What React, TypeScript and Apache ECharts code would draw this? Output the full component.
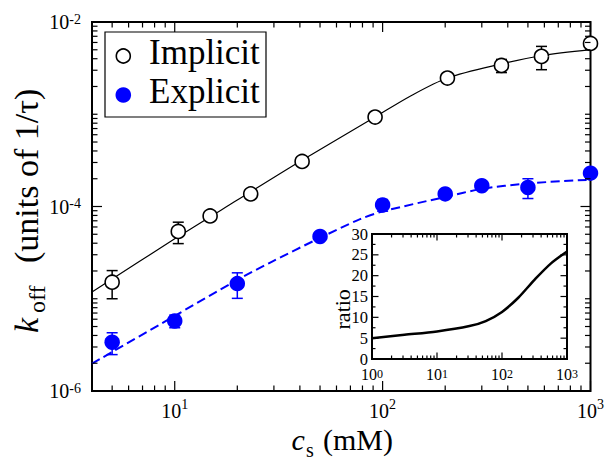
import React, { useEffect, useRef } from 'react';
import * as echarts from 'echarts';

// ---- data ----
const IMPLICIT_X = [5, 10.4, 14.8, 23.2, 41, 92, 205, 373, 581, 1000];
const IMPLICIT_Y = [1.51e-5, 5.36e-5, 7.9e-5, 1.37e-4, 3.08e-4, 9.33e-4, 2.47e-3, 3.38e-3, 4.24e-3, 5.85e-3];
const IMPLICIT_ERR = [0.51e-5, 1.4e-5, 0, 0, 0, 0, 0, 0.55e-3, 1.2e-3, 0];

const EXPLICIT_X = [5, 10, 20, 50, 100, 200, 300, 500, 1000];
const EXPLICIT_Y = [3.38e-6, 5.75e-6, 1.46e-5, 4.73e-5, 1.04e-4, 1.37e-4, 1.68e-4, 1.61e-4, 2.3e-4];
const EXPLICIT_ERR = [0.9e-6, 0.9e-6, 0.45e-5, 0, 0.15e-4, 0, 0, 0.39e-4, 0];

const IMPLICIT_FIT_X = [4, 10, 20, 40, 92, 135, 205, 373, 581, 1000];
const IMPLICIT_FIT_Y = [1.18e-5, 4.46e-5, 1.175e-4, 3.08e-4, 9.33e-4, 1.56e-3, 2.47e-3, 3.51e-3, 4.31e-3, 5.01e-3];

const EXPLICIT_FIT_X = [4, 10, 20, 28.8, 50, 77.9, 100, 200, 300, 500, 1000];
const EXPLICIT_FIT_Y = [1.98e-6, 6.52e-6, 1.6e-5, 2.47e-5, 4.57e-5, 7.29e-5, 8.83e-5, 1.27e-4, 1.55e-4, 1.78e-4, 1.95e-4];

const RATIO_X = [1, 3.16, 10, 31.6, 56.2, 100, 178, 316, 562, 1000];
const RATIO_Y = [5.0, 5.8, 6.6, 7.9, 9.1, 11.3, 14.7, 19.0, 22.9, 25.8];

const LEGEND_NAMES = ['Implicit', 'Explicit'];

// axis ranges
const MX_MIN = 4, MX_MAX = 1000, MY_MIN = 1e-6, MY_MAX = 1e-2;
const IX_MIN = 1, IX_MAX = 1000, IY_MIN = 0, IY_MAX = 30, IY_STEP = 5;

const FONT = 'Liberation Serif';
const BLUE = '#0000ff';

const zip = (xs: number[], ys: number[]) => xs.map((x, i) => [x, ys[i]]);
const zip3 = (xs: number[], ys: number[], es: number[]) => xs.map((x, i) => [x, ys[i], es[i]]);

function logTicks(min: number, max: number, isMajor: (m: number, e: number) => boolean, major: number, minor: number) {
  const out: number[][] = [];
  for (let e = Math.floor(Math.log10(min)); e <= Math.ceil(Math.log10(max)); e++) {
    for (let m = 1; m <= 9; m++) {
      const v = m * Math.pow(10, e);
      if (v < min * 0.9999 || v > max * 1.0001) continue;
      out.push([v, isMajor(m, e) ? major : minor]);
    }
  }
  return out;
}

function expOf(v: number) {
  const l = Math.log10(v);
  const r = Math.round(l);
  return Math.abs(l - r) < 1e-6 ? r : null;
}

const xTickSeries = (xi: number, yMin: number, yMax: number, ticks: number[][], lw: number) => ({
  type: 'custom',
  xAxisIndex: xi,
  yAxisIndex: xi,
  silent: true,
  clip: false,
  z: 6,
  data: ticks.map((t) => [t[0], yMin, t[1]]),
  renderItem: (params: any, api: any) => {
    const v = api.value(0);
    const len = api.value(2);
    const b = api.coord([v, yMin]);
    const t = api.coord([v, yMax]);
    const style = { stroke: '#000', lineWidth: lw };
    return {
      type: 'group',
      children: [
        { type: 'line', shape: { x1: b[0], y1: b[1], x2: b[0], y2: b[1] - len }, style },
        { type: 'line', shape: { x1: t[0], y1: t[1], x2: t[0], y2: t[1] + len }, style },
      ],
    };
  },
});

const yTickSeries = (i: number, xMin: number, xMax: number, ticks: number[][], lw: number) => ({
  type: 'custom',
  xAxisIndex: i,
  yAxisIndex: i,
  silent: true,
  clip: false,
  z: 6,
  data: ticks.map((t) => [xMin, t[0], t[1]]),
  renderItem: (params: any, api: any) => {
    const v = api.value(1);
    const len = api.value(2);
    const l = api.coord([xMin, v]);
    const r = api.coord([xMax, v]);
    const style = { stroke: '#000', lineWidth: lw };
    return {
      type: 'group',
      children: [
        { type: 'line', shape: { x1: l[0], y1: l[1], x2: l[0] + len, y2: l[1] }, style },
        { type: 'line', shape: { x1: r[0], y1: r[1], x2: r[0] - len, y2: r[1] }, style },
      ],
    };
  },
});

const errorBarSeries = (data: number[][], color: string) => ({
  type: 'custom',
  xAxisIndex: 0,
  yAxisIndex: 0,
  silent: true,
  z: 4,
  encode: { x: 0, y: 1 },
  data,
  renderItem: (params: any, api: any) => {
    const x = api.value(0);
    const y = api.value(1);
    const e = api.value(2);
    if (!e) return null;
    const top = api.coord([x, y + e]);
    const bot = api.coord([x, y - e]);
    const hw = 5.5;
    const style = { stroke: color, lineWidth: 1.5 };
    return {
      type: 'group',
      children: [
        { type: 'line', shape: { x1: top[0], y1: top[1], x2: bot[0], y2: bot[1] }, style },
        { type: 'line', shape: { x1: top[0] - hw, y1: top[1], x2: top[0] + hw, y2: top[1] }, style },
        { type: 'line', shape: { x1: bot[0] - hw, y1: bot[1], x2: bot[0] + hw, y2: bot[1] }, style },
      ],
    };
  },
});

export default function App() {
  const ref = useRef<HTMLDivElement>(null);
  useEffect(() => {
    document.body.style.margin = '0';
    if (!ref.current) return;
    const chart = echarts.init(ref.current, undefined, { renderer: 'svg' });

    const mainXTicks = logTicks(MX_MIN, MX_MAX, (m) => m === 1, 10, 5.5);
    const mainYTicks = logTicks(MY_MIN, MY_MAX, (m, e) => m === 1 && e % 2 === 0, 10, 5.5);
    const insXTicks = logTicks(IX_MIN, IX_MAX, (m) => m === 1, 6.5, 3.5);
    const insYTicks: number[][] = [];
    for (let v = IY_MIN; v <= IY_MAX + 1e-9; v += IY_STEP / 2) {
      insYTicks.push([v, Math.abs(v / IY_STEP - Math.round(v / IY_STEP)) < 1e-9 ? 6.5 : 3.5]);
    }

    const richMainX = {
      b: { fontSize: 20, lineHeight: 23, verticalAlign: 'bottom', fontFamily: FONT, color: '#000' },
      s: { fontSize: 14, lineHeight: 14, verticalAlign: 'top', fontFamily: FONT, color: '#000' },
    };
    const richMainY = {
      b: { fontSize: 20, lineHeight: 20, verticalAlign: 'bottom', fontFamily: FONT, color: '#000' },
      s: { fontSize: 14, lineHeight: 14, verticalAlign: 'top', fontFamily: FONT, color: '#000' },
    };
    const richInsX = {
      b: { fontSize: 16, lineHeight: 15, verticalAlign: 'bottom', fontFamily: FONT, color: '#000' },
      s: { fontSize: 12, lineHeight: 12, verticalAlign: 'top', fontFamily: FONT, color: '#000' },
    };
    const powFmt = (v: number) => {
      const e = expOf(v);
      return e === null ? '' : `{b|10}{s|${e < 0 ? '-' + -e : e}}`;
    };

    const option: any = {
      animation: false,
      backgroundColor: '#fff',
      grid: [
        { left: 92, top: 22, width: 499, height: 369, show: true, borderColor: '#000', borderWidth: 2, backgroundColor: 'transparent' },
        { left: 372, top: 234, width: 195, height: 125, show: true, borderColor: '#000', borderWidth: 2, backgroundColor: '#fff' },
      ],
      xAxis: [
        {
          type: 'log', logBase: 10, gridIndex: 0, min: MX_MIN, max: MX_MAX,
          axisLine: { show: false }, axisTick: { show: false }, splitLine: { show: false },
          axisLabel: { margin: 6.5, formatter: powFmt, rich: richMainX },
        },
        {
          type: 'log', logBase: 10, gridIndex: 1, min: IX_MIN, max: IX_MAX,
          axisLine: { show: false }, axisTick: { show: false }, splitLine: { show: false },
          axisLabel: { margin: 8.5, formatter: powFmt, rich: richInsX },
        },
      ],
      yAxis: [
        {
          type: 'log', logBase: 10, gridIndex: 0, min: MY_MIN, max: MY_MAX,
          axisLine: { show: false }, axisTick: { show: false }, splitLine: { show: false },
          axisLabel: {
            margin: 11,
            formatter: (v: number) => {
              const e = expOf(v);
              return e !== null && e % 2 === 0 ? powFmt(v) : '';
            },
            rich: richMainY,
          },
        },
        {
          type: 'value', gridIndex: 1, min: IY_MIN, max: IY_MAX, interval: IY_STEP,
          axisLine: { show: false }, axisTick: { show: false }, splitLine: { show: false },
          axisLabel: { margin: 4, fontSize: 16.5, lineHeight: 11, fontFamily: FONT, color: '#000' },
        },
      ],
      series: [
        {
          name: 'Implicit fit', type: 'line', xAxisIndex: 0, yAxisIndex: 0,
          data: zip(IMPLICIT_FIT_X, IMPLICIT_FIT_Y), showSymbol: false, smooth: 0.3, z: 3,
          lineStyle: { color: '#000', width: 1.2 },
        },
        {
          name: 'Explicit fit', type: 'line', xAxisIndex: 0, yAxisIndex: 0,
          data: zip(EXPLICIT_FIT_X, EXPLICIT_FIT_Y), showSymbol: false, smooth: 0.3, z: 3,
          lineStyle: { color: BLUE, width: 2, type: [9, 4.5] },
        },
        errorBarSeries(zip3(IMPLICIT_X, IMPLICIT_Y, IMPLICIT_ERR), '#000'),
        errorBarSeries(zip3(EXPLICIT_X, EXPLICIT_Y, EXPLICIT_ERR), BLUE),
        {
          name: LEGEND_NAMES[0], type: 'scatter', xAxisIndex: 0, yAxisIndex: 0,
          data: zip(IMPLICIT_X, IMPLICIT_Y), symbol: 'circle', symbolSize: 14, z: 5,
          itemStyle: { color: '#fff', borderColor: '#000', borderWidth: 1.6, opacity: 1 },
        },
        {
          name: LEGEND_NAMES[1], type: 'scatter', xAxisIndex: 0, yAxisIndex: 0,
          data: zip(EXPLICIT_X, EXPLICIT_Y), symbol: 'circle', symbolSize: 15.5, z: 5,
          itemStyle: { color: BLUE, opacity: 1 },
        },
        {
          name: 'ratio', type: 'line', xAxisIndex: 1, yAxisIndex: 1,
          data: zip(RATIO_X, RATIO_Y), showSymbol: false, smooth: 0.3, z: 5,
          lineStyle: { color: '#000', width: 2.5 },
        },
        xTickSeries(0, MY_MIN, MY_MAX, mainXTicks, 1.2),
        yTickSeries(0, MX_MIN, MX_MAX, mainYTicks, 1.2),
        xTickSeries(1, IY_MIN, IY_MAX, insXTicks, 1.2),
        yTickSeries(1, IX_MIN, IX_MAX, insYTicks, 1.2),
      ],
      graphic: [
        // legend
        { type: 'rect', shape: { x: 105, y: 32, width: 161, height: 85 }, style: { fill: '#fff', stroke: '#000', lineWidth: 1.2 }, z: 10 },
        { type: 'circle', shape: { cx: 123.3, cy: 56, r: 7 }, style: { fill: '#fff', stroke: '#000', lineWidth: 1.6 }, z: 11 },
        { type: 'circle', shape: { cx: 123.3, cy: 95, r: 7.8 }, style: { fill: BLUE }, z: 11 },
        { type: 'text', x: 149, y: 52.2, z: 11, style: { text: LEGEND_NAMES[0], fontSize: 35, fontFamily: FONT, fill: '#000', align: 'left', verticalAlign: 'middle' } },
        { type: 'text', x: 149, y: 91.5, z: 11, style: { text: LEGEND_NAMES[1], fontSize: 35, fontFamily: FONT, fill: '#000', align: 'left', verticalAlign: 'middle' } },
        // y title
        {
          type: 'group', x: 38, y: 333, rotation: Math.PI / 2,
          children: [
            { type: 'text', x: 0, y: -11.5, style: { text: 'k', fontSize: 34, fontStyle: 'italic', fontFamily: FONT, fill: '#000', align: 'left', verticalAlign: 'middle' } },
            { type: 'text', x: 20, y: -0.8, style: { text: 'off', fontSize: 24, fontFamily: FONT, fill: '#000', align: 'left', verticalAlign: 'middle' } },
            { type: 'text', x: 70, y: -11.5, style: { text: '(units of 1/τ)', fontSize: 34, fontFamily: FONT, fill: '#000', align: 'left', verticalAlign: 'middle' } },
          ],
        },
        // x title
        { type: 'text', x: 291.5, y: 439.9, style: { text: 'c', fontSize: 30, fontStyle: 'italic', fontFamily: FONT, fill: '#000', align: 'left', verticalAlign: 'middle' } },
        { type: 'text', x: 306, y: 450, style: { text: 's', fontSize: 20, fontFamily: FONT, fill: '#000', align: 'left', verticalAlign: 'middle' } },
        { type: 'text', x: 323, y: 439.9, style: { text: '(mM)', fontSize: 30, fontFamily: FONT, fill: '#000', align: 'left', verticalAlign: 'middle' } },
        // inset y title
        { type: 'text', x: 342.6, y: 309.3, rotation: Math.PI / 2, style: { text: 'ratio', fontSize: 22, fontFamily: FONT, fill: '#000', align: 'center', verticalAlign: 'middle' } },
      ],
    };
    chart.setOption(option);
    return () => chart.dispose();
  }, []);
  return <div ref={ref} style={{ width: 607, height: 461 }} />;
}
